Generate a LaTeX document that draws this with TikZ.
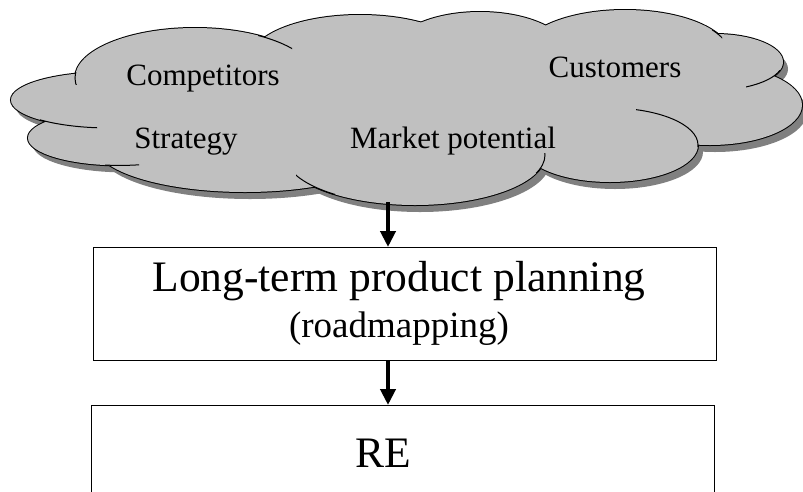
\documentclass[tikz,border=0pt]{standalone}
\usepackage{fontspec}
\setmainfont{Liberation Serif}
\usetikzlibrary{arrows.meta}
\definecolor{cloudfill}{RGB}{192,192,192}
\definecolor{cloudshadow}{RGB}{128,128,128}
\begin{document}
\begin{tikzpicture}[x=1pt,y=-1pt,
  boxstyle/.style={draw=black, line width=1.3pt, fill=white, inner sep=0pt, anchor=north west},
  cloudtext/.style={font=\fontsize{31}{36}\selectfont, anchor=base, inner sep=0pt},
  bigtext/.style={font=\fontsize{43.5}{50}\selectfont, anchor=base, inner sep=0pt},
  midtext/.style={font=\fontsize{37}{42}\selectfont, anchor=base, inner sep=0pt},
  flowarrow/.style={line width=4.5pt, -{Triangle[width=15pt,length=16pt]}},
  crease/.style={line width=1pt}]
\useasboundingbox (0,0) rectangle (803,491);
\clip (0,0) rectangle (803,491);
\def\lobelist{110/100/99pt/28pt, 120/138/92pt/27.4pt, 195/78/120pt/50pt, 360/60/110pt/45pt,
  480/55/90pt/43pt, 625/55/105pt/45pt, 715/62/68pt/28pt, 710/105/92pt/40pt,
  610/145/88pt/37pt, 415/155/130pt/50pt, 245/145/150pt/47pt, 400/100/300pt/70pt}
% shadow
\foreach \cx/\cy/\rx/\ry in \lobelist
  \fill[cloudshadow] (\cx+5,\cy+7) ellipse [x radius=\rx, y radius=\ry];
% outline (outer half remains)
\foreach \cx/\cy/\rx/\ry in \lobelist
  \draw[line width=2pt] (\cx,\cy) ellipse [x radius=\rx, y radius=\ry];
% fill
\foreach \cx/\cy/\rx/\ry in \lobelist
  \fill[cloudfill] (\cx,\cy) ellipse [x radius=\rx, y radius=\ry];
% creases
\begin{scope}\clip (70,72) rectangle (90,84);
  \draw[crease] (195,78) ellipse [x radius=120pt, y radius=50pt];\end{scope}
\begin{scope}\clip (40,115) rectangle (97,135);
  \draw[crease] (110,100) ellipse [x radius=99pt, y radius=28pt];\end{scope}
\begin{scope}\clip (105,158) rectangle (139,172);
  \draw[crease] (120,138) ellipse [x radius=92pt, y radius=27.4pt];\end{scope}
\begin{scope}\clip (296,170) rectangle (335,195);
  \draw[crease] (415,155) ellipse [x radius=130pt, y radius=50pt];\end{scope}
\begin{scope}\clip (534,153) rectangle (548,172);
  \draw[crease] (415,155) ellipse [x radius=130pt, y radius=50pt];\end{scope}
\begin{scope}\clip (636,105) rectangle (700,146);
  \draw[crease] (610,145) ellipse [x radius=88pt, y radius=37pt];\end{scope}
\begin{scope}\clip (746,70) rectangle (786,92);
  \draw[crease] (715,62) ellipse [x radius=68pt, y radius=28pt];\end{scope}
\begin{scope}\clip (258,28) rectangle (292,50);
  \draw[crease] (195,78) ellipse [x radius=120pt, y radius=50pt];\end{scope}
\begin{scope}\clip (712,30) rectangle (722,42);
  \draw[crease] (625,55) ellipse [x radius=105pt, y radius=45pt];\end{scope}
% cloud texts
\node[cloudtext] (competitors) at (203,85) {Competitors};
\node[cloudtext] (customers) at (615,77) {Customers};
\node[cloudtext] (strategy) at (186,148) {Strategy};
\node[cloudtext] (market) at (453,148) {Market potential};
\coordinate (cloudbot) at (388,202);
% boxes
\node[boxstyle, minimum width=623pt, minimum height=113pt] (plan) at (93,247) {};
\node[bigtext] (plantitle) at (399,291) {Long-term product planning};
\node[midtext] (plansub) at (399,337) {(roadmapping)};
\node[boxstyle, minimum width=623pt, minimum height=130pt] (re) at (91,405) {};
\node[bigtext] (retext) at (383,467) {RE};
% arrows
\draw[flowarrow] (cloudbot) -- (cloudbot |- plan.north);
\draw[flowarrow] (cloudbot |- plan.south) -- (cloudbot |- re.north);
\end{tikzpicture}
\end{document}
